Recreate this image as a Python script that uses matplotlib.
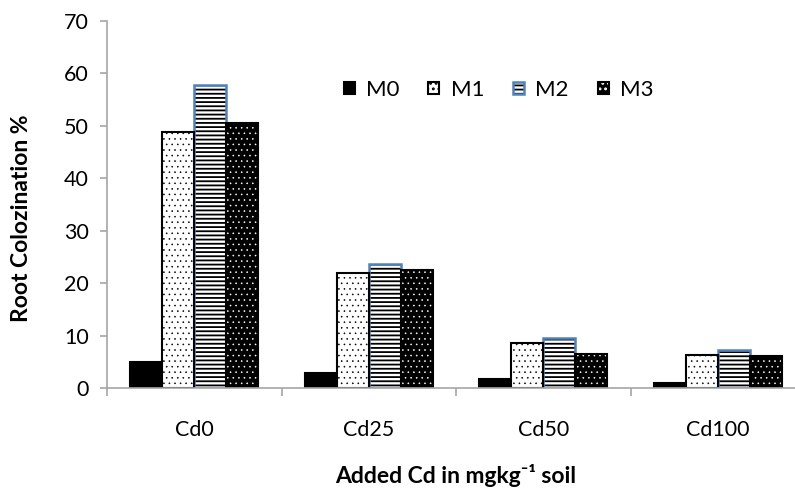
import numpy as np
import matplotlib
matplotlib.use('Agg')
import matplotlib.pyplot as plt

plt.rcParams['font.family'] = ['Lato', 'DejaVu Sans']
plt.rcParams['hatch.linewidth'] = 1.3

categories = ['Cd0', 'Cd25', 'Cd50', 'Cd100']
series_names = ['M0', 'M1', 'M2', 'M3']
m0 = [5.1, 2.9, 1.7, 0.95]
m1 = [48.9, 22.0, 8.6, 6.4]
m2 = [57.8, 23.6, 9.5, 7.2]
m3 = [50.6, 22.5, 6.5, 6.2]

axis_grey = '#a6a6a6'
blue = '#4f81bd'

fig = plt.figure(figsize=(7.95, 4.92), dpi=100)
ax = fig.add_axes([0.1346, 0.2108, 0.878, 0.747])

x = np.arange(len(categories))
w = 0.183
offsets = np.array([-1.5, -0.5, 0.5, 1.5]) * w

# M0: solid black
b0 = ax.bar(x + offsets[0], m0, w, color='black', edgecolor='black', linewidth=1.5)
# M2: horizontal stripes, blue outline
b2h = ax.bar(x + offsets[2], m2, w, color='white', edgecolor='black', hatch='----', linewidth=0)
b2 = ax.bar(x + offsets[2], m2, w, fill=False, edgecolor=blue, linewidth=1.8)

# dotted fills use thinner hatch strokes so the dots stay small
with plt.rc_context({'hatch.linewidth': 0.4}):
    # M1: white with black dots
    b1 = ax.bar(x + offsets[1], m1, w, color='white', edgecolor='black', hatch='...', linewidth=1.5)
    # M3: black with white dots
    b3h = ax.bar(x + offsets[3], m3, w, color='black', edgecolor='white', hatch='...', linewidth=0)
b3 = ax.bar(x + offsets[3], m3, w, fill=False, edgecolor='black', linewidth=1.5)

ax.set_xlim(-0.5, len(categories) - 0.5)
ax.set_ylim(0, 70)
ax.set_yticks(np.arange(0, 71, 10))
ax.set_xticks(x)
ax.set_xticklabels(categories)
ax.set_xticks(np.arange(-0.5, len(categories), 1), minor=True)

for s in ['top', 'right']:
    ax.spines[s].set_visible(False)
for s in ['left', 'bottom']:
    ax.spines[s].set_color(axis_grey)
    ax.spines[s].set_linewidth(1.2)

ax.tick_params(axis='y', direction='out', length=5, width=1.2, color=axis_grey,
               labelsize=15.5, pad=8, labelcolor='black')
ax.tick_params(axis='x', which='major', length=0, labelsize=15.5, pad=23, labelcolor='black')
ax.tick_params(axis='x', which='minor', direction='out', length=6, width=1.2, color=axis_grey)

ax.set_ylabel('Root Colozination %', fontsize=16.5, fontweight='bold', va='center')
ax.yaxis.set_label_coords(-0.122, 0.463)
ax.set_xlabel('Added Cd in mgkg\u207b\u00b9 soil', fontsize=16.5, fontweight='bold', va='baseline')
ax.xaxis.set_label_coords(0.5, -0.258)

handles = [b0[0], b1[0], (b2h[0], b2[0]), (b3h[0], b3[0])]
ax.legend(handles, series_names, ncol=4, frameon=False, fontsize=16,
          handlelength=0.5, handleheight=0.5, handletextpad=0.5, columnspacing=1.3,
          loc='center', bbox_to_anchor=(498.5 / 795, 1 - 90 / 492),
          bbox_transform=fig.transFigure)

fig.savefig('out.png', dpi=100)
